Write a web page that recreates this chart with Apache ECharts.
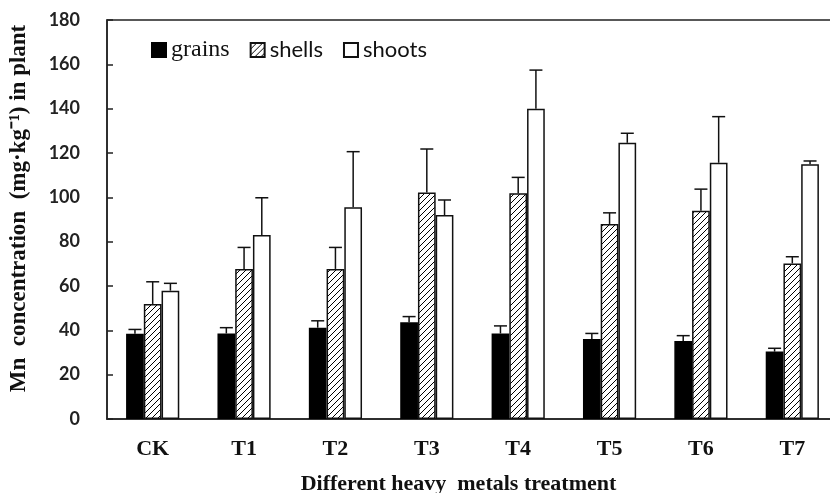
<!DOCTYPE html>
<html>
<head>
<meta charset="utf-8">
<script src="https://cdn.jsdelivr.net/npm/echarts@6/dist/echarts.min.js"></script>
<style>html,body{margin:0;padding:0;background:#fff}#c{width:830px;height:493px}</style>
</head>
<body>
<div id="c"></div>
<script>
const categories = ['CK', 'T1', 'T2', 'T3', 'T4', 'T5', 'T6', 'T7'];
const grains = [38.5, 38.6, 41.2, 43.7, 38.6, 36.1, 35.2, 30.4];
const grainsErr = [1.9, 2.6, 3.1, 2.5, 3.4, 2.5, 2.4, 1.5];
const shells = [51.9, 67.7, 67.7, 102.2, 101.8, 88.0, 94.0, 70.2];
const shellsErr = [10.0, 9.7, 9.7, 19.6, 7.2, 5.0, 9.7, 3.0];
const shoots = [57.9, 83.0, 95.5, 92.0, 140.0, 124.6, 115.6, 114.9];
const shootsErr = [3.3, 16.8, 25.1, 6.8, 17.4, 4.3, 20.8, 1.5];
const yTicks = [0, 20, 40, 60, 80, 100, 120, 140, 160, 180];

// hatch pattern
const pc = document.createElement('canvas');
pc.width = 6; pc.height = 6;
const g = pc.getContext('2d');
g.fillStyle = '#fff'; g.fillRect(0, 0, 6, 6);
g.strokeStyle = '#000'; g.lineWidth = 1;
g.beginPath();
g.moveTo(0, 6); g.lineTo(6, 0);
g.moveTo(-1, 1); g.lineTo(1, -1);
g.moveTo(5, 7); g.lineTo(7, 5);
g.stroke();

const BW = 0.194;
function errSeries(vals, errs, k) {
  return {
    type: 'custom',
    z: 1,
    data: vals.map((v, i) => [i, v, errs[i]]),
    encode: { x: 0, y: 1 },
    renderItem: function (params, api) {
      const i = api.value(0), v = api.value(1), e = api.value(2);
      const band = api.size([1, 0])[0];
      const off = (k - 1) * band * BW;
      const p0 = api.coord([i, v]);
      const p1 = api.coord([i, v + e]);
      const x = p0[0] + off;
      const cap = 6.5;
      return {
        type: 'group',
        children: [
          { type: 'line', shape: { x1: x, y1: p0[1], x2: x, y2: p1[1] }, style: { stroke: '#111', lineWidth: 1.5 } },
          { type: 'line', shape: { x1: x - cap, y1: p1[1], x2: x + cap, y2: p1[1] }, style: { stroke: '#111', lineWidth: 1.5 } }
        ]
      };
    }
  };
}

const chart = echarts.init(document.getElementById('c'));
chart.setOption({
  animation: false,
  backgroundColor: '#fff',
  grid: { left: 107, top: 20, bottom: 74, right: -8, outerBoundsMode: 'none', containLabel: false,
          show: true, borderColor: '#222', borderWidth: 1.5, backgroundColor: 'transparent' },
  legend: {
    left: 151, top: 38, padding: 0,
    data: ['grains', 'shells', 'shoots'],
    itemWidth: 14, itemHeight: 14, itemGap: 20,
    icon: 'rect',
    formatter: function (n) { return n === 'grains' ? '{s|' + n + '}' : '{a|' + n + '}'; },
    textStyle: {
      padding: [0, 0, 0, 0],
      rich: {
        s: { fontFamily: 'Liberation Serif', fontSize: 24, color: '#111' },
        a: { fontFamily: 'Lato', fontSize: 22, color: '#111' }
      }
    }
  },
  xAxis: {
    type: 'category',
    data: categories,
    axisLine: { lineStyle: { color: '#222', width: 1.5 } },
    axisTick: { show: false },
    axisLabel: { margin: 19, fontFamily: 'Liberation Serif', fontWeight: 'bold', fontSize: 22, color: '#111' },
    name: 'Different heavy  metals treatment',
    nameLocation: 'middle',
    nameGap: 54,
    nameTextStyle: { fontFamily: 'Liberation Serif', fontWeight: 'bold', fontSize: 22, color: '#111', padding: [0, 28, 0, 0] }
  },
  yAxis: {
    type: 'value',
    min: yTicks[0], max: yTicks[yTicks.length - 1], interval: yTicks[1] - yTicks[0],
    splitLine: { show: false },
    axisLine: { show: true, lineStyle: { color: '#222', width: 1.5 } },
    axisTick: { show: true, inside: true, length: 6, lineStyle: { color: '#222', width: 1.5 } },
    axisLabel: { margin: 27, fontFamily: 'Lato', fontWeight: 'bold', fontSize: 18, color: '#222' },
    name: 'Mn  concentration  (mg·kg⁻¹) in plant',
    nameLocation: 'middle',
    nameGap: 76,
    nameTextStyle: { fontFamily: 'Liberation Serif', fontWeight: 'bold', fontSize: 23, color: '#111', padding: [0, 0, 0, 22] }
  },
  series: [
    { name: 'grains', type: 'bar', data: grains, barWidth: '19.4%', barGap: '0%',
      itemStyle: { color: '#000', borderColor: '#000', borderWidth: 1.5 } },
    { name: 'shells', type: 'bar', data: shells, barWidth: '19.4%', barGap: '0%',
      itemStyle: { color: { image: pc, repeat: 'repeat' }, borderColor: '#111', borderWidth: 1.5 } },
    { name: 'shoots', type: 'bar', data: shoots, barWidth: '19.4%', barGap: '0%',
      itemStyle: { color: '#fff', borderColor: '#111', borderWidth: 1.5 } },
    errSeries(grains, grainsErr, 0),
    errSeries(shells, shellsErr, 1),
    errSeries(shoots, shootsErr, 2)
  ]
});
</script>
</body>
</html>
